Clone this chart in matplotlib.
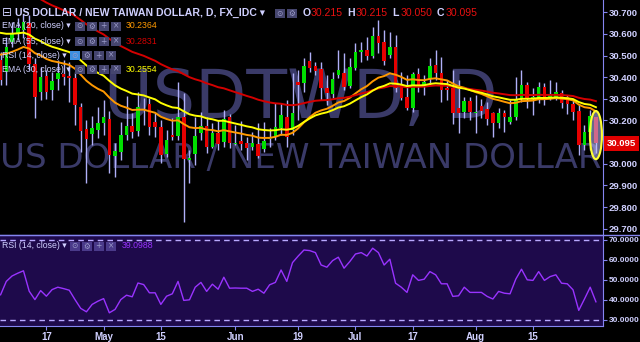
import numpy as np
import pandas as pd
import matplotlib
matplotlib.use("Agg")
import matplotlib.pyplot as plt
import matplotlib.transforms as mtransforms
from matplotlib.patches import Ellipse, Rectangle
from matplotlib.lines import Line2D

# USD/TWD daily candles
open_ = [30.480, 30.424, 30.563, 30.605, 30.618, 30.651, 30.461, 30.332, 30.406, 30.341,
         30.392, 30.415, 30.406, 30.397, 30.263, 30.161, 30.138, 30.156, 30.189, 30.207,
         30.036, 30.055, 30.133, 30.175, 30.152, 30.249, 30.276, 30.193, 30.170, 30.045,
         30.133, 30.129, 30.216, 30.018, 30.045, 30.142, 30.175, 30.078, 30.142, 30.101,
         30.216, 30.092, 30.105, 30.096, 30.078, 30.092, 30.068, 30.115, 30.124, 30.166,
         30.216, 30.156, 30.378, 30.373, 30.475, 30.452, 30.438, 30.350, 30.323, 30.410,
         30.420, 30.360, 30.443, 30.517, 30.526, 30.498, 30.591, 30.563, 30.503, 30.540,
         30.364, 30.309, 30.258, 30.415, 30.364, 30.392, 30.457, 30.420, 30.350, 30.350,
         30.258, 30.239, 30.290, 30.235, 30.267, 30.253, 30.235, 30.189, 30.235, 30.193,
         30.216, 30.300, 30.364, 30.300, 30.300, 30.355, 30.309, 30.309, 30.327, 30.309,
         30.276, 30.244, 30.087, 30.147, 30.215]
high = [30.517, 30.586, 30.655, 30.674, 30.692, 30.688, 30.489, 30.447, 30.434, 30.424,
        30.480, 30.480, 30.471, 30.424, 30.281, 30.202, 30.221, 30.263, 30.295, 30.244,
        30.096, 30.193, 30.313, 30.235, 30.332, 30.304, 30.304, 30.235, 30.202, 30.156,
        30.212, 30.378, 30.327, 30.064, 30.216, 30.239, 30.216, 30.189, 30.202, 30.249,
        30.230, 30.179, 30.198, 30.124, 30.147, 30.189, 30.193, 30.166, 30.281, 30.281,
        30.295, 30.420, 30.434, 30.489, 30.517, 30.471, 30.471, 30.410, 30.424, 30.526,
        30.512, 30.489, 30.558, 30.563, 30.586, 30.632, 30.665, 30.618, 30.609, 30.595,
        30.424, 30.410, 30.424, 30.443, 30.410, 30.489, 30.526, 30.494, 30.387, 30.434,
        30.387, 30.309, 30.309, 30.318, 30.300, 30.286, 30.239, 30.258, 30.249, 30.295,
        30.401, 30.434, 30.378, 30.350, 30.378, 30.373, 30.387, 30.378, 30.341, 30.318,
        30.295, 30.272, 30.179, 30.249, 30.215]
low = [30.364, 30.364, 30.540, 30.572, 30.581, 30.434, 30.212, 30.295, 30.300, 30.295,
       30.341, 30.364, 30.286, 30.179, 30.055, 29.911, 30.087, 30.119, 30.133, 29.958,
       29.939, 30.018, 30.110, 30.119, 30.129, 30.179, 30.133, 30.124, 30.004, 30.032,
       30.110, 30.110, 29.731, 29.911, 29.995, 30.110, 30.050, 30.073, 30.064, 30.078,
       30.073, 30.087, 30.064, 30.018, 30.064, 30.027, 30.055, 30.078, 30.110, 30.133,
       30.078, 30.133, 30.202, 30.332, 30.424, 30.410, 30.295, 30.272, 30.304, 30.397,
       30.341, 30.350, 30.434, 30.471, 30.480, 30.489, 30.512, 30.457, 30.489, 30.332,
       30.295, 30.249, 30.239, 30.332, 30.318, 30.364, 30.387, 30.286, 30.295, 30.184,
       30.142, 30.212, 30.202, 30.142, 30.212, 30.179, 30.124, 30.166, 30.147, 30.184,
       30.202, 30.286, 30.258, 30.226, 30.281, 30.272, 30.295, 30.295, 30.258, 30.230,
       30.202, 30.041, 30.064, 30.064, 30.050]
close = [30.387, 30.540, 30.605, 30.628, 30.655, 30.461, 30.309, 30.401, 30.332, 30.383,
         30.420, 30.401, 30.397, 30.272, 30.152, 30.115, 30.166, 30.189, 30.216, 30.041,
         30.059, 30.133, 30.175, 30.147, 30.263, 30.253, 30.170, 30.170, 30.041, 30.110,
         30.124, 30.216, 30.022, 30.027, 30.129, 30.175, 30.078, 30.142, 30.092, 30.207,
         30.096, 30.096, 30.092, 30.073, 30.096, 30.036, 30.105, 30.124, 30.170, 30.226,
         30.124, 30.235, 30.364, 30.452, 30.443, 30.429, 30.350, 30.327, 30.392, 30.434,
         30.355, 30.447, 30.517, 30.526, 30.498, 30.591, 30.558, 30.475, 30.540, 30.350,
         30.304, 30.258, 30.415, 30.355, 30.378, 30.452, 30.420, 30.341, 30.341, 30.235,
         30.235, 30.290, 30.239, 30.239, 30.244, 30.207, 30.189, 30.235, 30.216, 30.216,
         30.300, 30.364, 30.300, 30.309, 30.355, 30.300, 30.318, 30.332, 30.281, 30.276,
         30.239, 30.087, 30.147, 30.221, 30.095]

# RSI(14) as drawn in the lower pane
rsi = [42.6, 49.3, 52.0, 53.4, 54.6, 44.4, 40.2, 44.7, 41.9, 45.2,
       46.4, 45.7, 44.9, 40.2, 35.8, 34.1, 37.8, 39.4, 40.7, 33.6,
       35.3, 40.2, 42.4, 41.6, 48.5, 47.7, 43.6, 43.6, 37.8, 41.9,
       43.1, 49.3, 39.8, 40.1, 46.4, 48.8, 44.3, 47.9, 45.4, 51.4,
       45.9, 46.0, 45.9, 45.9, 44.3, 45.4, 43.4, 47.6, 48.8, 55.0,
       49.3, 58.7, 62.0, 65.0, 64.7, 63.7, 57.5, 56.4, 59.7, 61.4,
       55.9, 59.2, 63.0, 63.7, 62.0, 65.9, 63.7, 57.5, 60.4, 48.4,
       46.4, 43.8, 52.6, 49.8, 50.4, 54.2, 52.6, 48.1, 48.1, 41.8,
       42.1, 46.4, 43.8, 43.8, 43.8, 41.8, 40.5, 44.3, 43.4, 43.1,
       50.4, 55.4, 50.1, 49.8, 54.2, 49.8, 51.7, 52.6, 48.4, 48.1,
       45.1, 34.8, 40.5, 46.4, 39.1]

# EMA settings, level of each EMA at the first visible bar, and legend values
ema_len = [20, 55, 30]
ema_seed = [30.517, 30.85, 30.62]
ema_last = ["30.2364", "30.2831", "30.2554"]
ema_col = ["#ff9900", "#d40000", "#ffff00"]

tick_pos = [8, 18, 28, 41, 52, 62, 72, 83, 93]
tick_lab = ["17", "May", "15", "Jun", "19", "Jul", "17", "Aug", "15"]
# 30.100 sits under the last-price tag, so it is not listed
price_ticks = [29.7, 29.8, 29.9, 30.0, 30.2, 30.3, 30.4, 30.5, 30.6, 30.7]
rsi_ticks = [30, 40, 50, 60, 70]
rsi_last = "39.0988"

W, H = 640, 342
LAV = "#8585f0"
TXT = "#d0d0ff"
UI = ["Liberation Sans", "DejaVu Sans"]


def rect(x0, y0, x1, y1):
    # pixel box (origin top-left) -> figure fraction rect
    return [x0 / W, 1 - y1 / H, (x1 - x0) / W, (y1 - y0) / H]


def ftext(x, y, s, **kw):
    kw.setdefault("family", UI)
    return fig.text(x / W, 1 - y / H, s, va="center", ha="left", **kw)


def icon_row(x0, y, glyphs, fc="#45456e", gc="#9a9ac8", first=None):
    for k, g in enumerate(glyphs):
        xx = x0 + k * 12
        col = first if (k == 0 and first) else fc
        fig.add_artist(Rectangle((xx / W, 1 - (y + 4.5) / H), 9.5 / W, 9 / H,
                                 transform=fig.transFigure, fc=col, ec="none"))
        fig.text((xx + 4.75) / W, 1 - y / H, g, ha="center", va="center",
                 fontsize=5.5, color=gc, family="DejaVu Sans")


fig = plt.figure(figsize=(6.4, 3.42), dpi=100, facecolor="black")
ax = fig.add_axes(rect(0, 0, 602.5, 234.5))
ax2 = fig.add_axes(rect(0, 234.5, 602.5, 326), sharex=ax)

x = np.arange(len(close))
o = np.array(open_)
c = np.array(close)
hi = np.array(high)
lo = np.array(low)

# --- price pane ---
ax.set_facecolor("black")
ax.set_xlim(-0.1, 105.15)
ax.set_ylim(29.6732, 30.7568)

ax.text(0.5, 1 - 118 / 234.5, "USDTWD, D", transform=ax.transAxes, ha="center",
        va="baseline", fontsize=48, color="#3a3a68", family="DejaVu Sans", zorder=0)
ax.text(0.5, 1 - 168 / 234.5, "US DOLLAR / NEW TAIWAN DOLLAR", transform=ax.transAxes,
        ha="center", va="baseline", fontsize=24.5, color="#3a3a68",
        family="DejaVu Sans", zorder=0)

up = c >= o
body_col = np.where(up, "#00e000", "#e60000")
ax.vlines(x, lo, hi, color="#b0b0f8", lw=1, zorder=2)
ax.bar(x, np.maximum(np.abs(c - o), 0.003), bottom=np.minimum(o, c), width=0.62,
       color=body_col, zorder=3)

for n, seed, col in zip(ema_len, ema_seed, ema_col):
    ema = pd.Series(np.r_[seed, c]).ewm(span=n, adjust=False).mean().values[1:]
    ax.plot(x, ema, color=col, lw=1.4, zorder=4)

# highlight on last candle
ax.add_patch(Ellipse((x[-1], (hi[-1] + lo[-1]) / 2), 2.1, (hi[-1] - lo[-1]) * 1.35,
                     fc=(0.75, 0.75, 1.0, 0.55), ec="#ffff33", lw=1.5, zorder=5))

for s in ["top", "left"]:
    ax.spines[s].set_visible(False)
for s in ["right", "bottom"]:
    ax.spines[s].set_color(LAV)
ax.tick_params(axis="x", bottom=False, labelbottom=False)
ax.yaxis.tick_right()
ax.set_yticks(price_ticks)
ax.set_yticklabels([f"{v:.3f}" for v in price_ticks])
ax.tick_params(axis="y", colors=LAV, labelcolor=TXT, labelsize=6.8, length=3, pad=1.5)
for t in ax.get_yticklabels():
    t.set_fontweight("bold")
    t.set_family(UI)

tr = mtransforms.blended_transform_factory(ax.transAxes, ax.transData)
ax.text(1.007, c[-1], f"{c[-1]:.3f}", transform=tr, ha="left", va="center",
        fontsize=6.8, color="white", fontweight="bold", family=UI, clip_on=False,
        bbox=dict(boxstyle="square,pad=0.3", fc="#e00000", ec="none"), zorder=6)

# --- RSI pane ---
ax2.set_facecolor("#1e0a4b")
ax2.set_ylim(27, 72.75)
ax2.plot(x, rsi, color="#9933ff", lw=1)
for lv in (70, 30):
    ax2.axhline(lv, color="#b9a9ff", lw=1, ls=(0, (4, 3)))
ax2.spines["left"].set_visible(False)
for s in ["right", "bottom", "top"]:
    ax2.spines[s].set_color(LAV)
ax2.yaxis.tick_right()
ax2.set_yticks(rsi_ticks)
ax2.set_yticklabels([f"{v:.4f}" for v in rsi_ticks])
ax2.set_xticks(tick_pos)
ax2.set_xticklabels(tick_lab)
ax2.tick_params(colors=LAV, labelcolor=TXT, labelsize=6.0, length=3, pad=1.5)
ax2.tick_params(axis="x", labelsize=7, pad=1.5)
for t in ax2.get_yticklabels() + ax2.get_xticklabels():
    t.set_fontweight("bold")
    t.set_family(UI)

fig.add_artist(Line2D([0, 1], [1 - 234.5 / H] * 2, color=LAV, lw=1,
                      transform=fig.transFigure))

# --- legend rows ---
ftext(2, 13, "\u229f", fontsize=8.5, color=TXT, family="DejaVu Sans")
ftext(15, 13, "US DOLLAR / NEW TAIWAN DOLLAR, D, FX_IDC \u25be", fontsize=7.6,
      fontweight="bold", color=TXT)
icon_row(275, 13, ["\u2299", "\u2699"])
ohlc = [("O", o[-1]), ("H", hi[-1]), ("L", lo[-1]), ("C", c[-1])]
for k, (lab, v) in enumerate(ohlc):
    x0 = 303 + k * 44.7
    ftext(x0, 13, lab, fontsize=7.6, fontweight="bold", color=TXT)
    ftext(x0 + 8, 13, f"{v:.3f}", fontsize=7.6, color="#e81010")

rows_y = {20: 26, 55: 41, 30: 69}
for n, val, col in zip(ema_len, ema_last, ema_col):
    y = rows_y[n]
    ftext(2, y, f"EMA ({n}, close) \u25be", fontsize=6.3, color=TXT)
    icon_row(75, y, ["\u2299", "\u2699", "+", "\u00d7"])
    ftext(126, y, val, fontsize=6.3, color=col)
ftext(2, 55, "RSI (14, close) \u25be", fontsize=6.3, color=TXT)
icon_row(70, 55, ["\u2299", "\u2699", "+", "\u00d7"], first="#3d8fe0")

ftext(2, 246, "RSI (14, close) \u25be", fontsize=6.3, color=TXT)
icon_row(70, 246, ["\u2299", "\u2699", "+", "\u00d7"], fc="#4a3a8a")
ftext(122, 246, rsi_last, fontsize=6.3, color="#9933ff")

fig.savefig("out.png", dpi=100, facecolor="black")
